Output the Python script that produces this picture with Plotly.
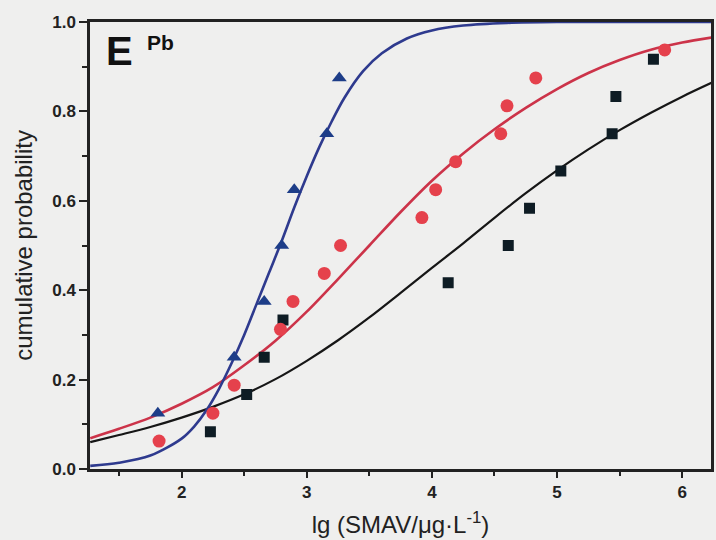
import plotly.graph_objects as go

# ---- data ----
# Blue triangles
tri_x = [1.81, 2.42, 2.66, 2.80, 2.90, 3.16, 3.26]
tri_y = [0.125, 0.25, 0.375, 0.50, 0.625, 0.75, 0.875]

# Red circles
cir_x = [1.82, 2.25, 2.42, 2.79, 2.89, 3.14, 3.27, 3.92, 4.03, 4.19, 4.55, 4.60, 4.83, 5.86]
cir_y = [0.0625, 0.125, 0.1875, 0.3125, 0.375, 0.4375, 0.50, 0.5625, 0.625, 0.6875,
         0.75, 0.8125, 0.875, 0.9375]

# Black squares
sq_x = [2.23, 2.52, 2.66, 2.81, 4.13, 4.61, 4.78, 5.03, 5.44, 5.47, 5.77]
sq_y = [0.0833, 0.1667, 0.25, 0.3333, 0.4167, 0.50, 0.5833, 0.6667, 0.75, 0.8333, 0.9167]

# Fitted curves
blue_cx = [1.27, 1.5, 1.75, 2.0, 2.1, 2.2, 2.3, 2.4, 2.5, 2.6, 2.7, 2.8, 2.9, 3.0,
           3.1, 3.2, 3.3, 3.45, 3.6, 3.8, 4.0, 4.25, 4.6, 5.0, 5.6, 6.25]
blue_cy = [0.007, 0.014, 0.030, 0.068, 0.095, 0.132, 0.180, 0.237, 0.300, 0.370,
           0.440, 0.510, 0.585, 0.655, 0.720, 0.778, 0.830, 0.890, 0.930, 0.963,
           0.981, 0.992, 0.998, 1.0, 1.0, 1.0]

red_cx = [1.27, 1.5, 1.75, 2.0, 2.25, 2.5, 2.75, 3.0, 3.25, 3.5, 3.75, 4.0, 4.25,
          4.5, 4.75, 5.0, 5.25, 5.5, 5.75, 6.0, 6.25]
red_cy = [0.069, 0.090, 0.115, 0.146, 0.183, 0.232, 0.287, 0.352, 0.425, 0.500,
          0.575, 0.645, 0.706, 0.760, 0.808, 0.850, 0.886, 0.915, 0.938, 0.954, 0.966]

blk_cx = [1.27, 1.5, 1.75, 2.0, 2.25, 2.5, 2.75, 3.0, 3.25, 3.5, 3.75, 4.0, 4.25,
          4.5, 4.75, 5.0, 5.25, 5.5, 5.75, 6.0, 6.25]
blk_cy = [0.060, 0.076, 0.094, 0.115, 0.139, 0.167, 0.201, 0.242, 0.288, 0.339,
          0.394, 0.450, 0.505, 0.562, 0.617, 0.668, 0.715, 0.758, 0.797, 0.833, 0.866]

x_ticks = [2, 3, 4, 5, 6]
y_ticks = [0.0, 0.2, 0.4, 0.6, 0.8, 1.0]

FONT = "Arial, Liberation Sans, Helvetica, sans-serif"
BG = "#efefee"
INK = "#222222"

fig = go.Figure()

fig.add_trace(go.Scatter(x=blk_cx, y=blk_cy, mode="lines",
                         line=dict(color="#161616", width=2.2, shape="spline", smoothing=0.9),
                         showlegend=False, hoverinfo="skip"))
fig.add_trace(go.Scatter(x=red_cx, y=red_cy, mode="lines",
                         line=dict(color="#cc3349", width=2.6, shape="spline", smoothing=0.9),
                         showlegend=False, hoverinfo="skip"))
fig.add_trace(go.Scatter(x=blue_cx, y=blue_cy, mode="lines",
                         line=dict(color="#2e3a8e", width=2.6, shape="spline", smoothing=0.9),
                         showlegend=False, hoverinfo="skip"))

fig.add_trace(go.Scatter(x=sq_x, y=sq_y, mode="markers",
                         marker=dict(symbol="square", size=11, color="#0e1c24"),
                         showlegend=False))
fig.add_trace(go.Scatter(x=cir_x, y=cir_y, mode="markers",
                         marker=dict(symbol="circle", size=13, color="#e5414c"),
                         showlegend=False))
fig.add_trace(go.Scatter(x=tri_x, y=tri_y, mode="markers",
                         marker=dict(symbol="triangle-up", size=13, color="#1d3d88"),
                         showlegend=False))

fig.update_layout(
    width=716, height=540,
    margin=dict(l=90, r=2, t=22, b=71),
    paper_bgcolor=BG, plot_bgcolor=BG,
    font=dict(family=FONT, color=INK),
    showlegend=False,
)

fig.update_xaxes(
    range=[1.268, 6.23],
    tickvals=x_ticks, ticktext=[str(v) for v in x_ticks],
    ticks="outside", ticklen=6, tickwidth=2.2, tickcolor=INK,
    minor=dict(dtick=0.5, tick0=0, ticks="outside", ticklen=4, tickwidth=2.2, tickcolor=INK),
    showline=True, linewidth=2.5, linecolor=INK, mirror=True,
    showgrid=False, zeroline=False,
    tickfont=dict(size=17, family=FONT, color=INK, weight="bold"),
    title=dict(text="lg (SMAV/μg·L<sup>-1</sup>)", font=dict(size=24, family=FONT, color=INK),
               standoff=16),
)
fig.update_yaxes(
    range=[0, 1],
    tickvals=y_ticks, ticktext=[f"{v:.1f}" for v in y_ticks],
    ticks="outside", ticklen=8, tickwidth=2.2, tickcolor=INK,
    minor=dict(dtick=0.1, tick0=0, ticks="outside", ticklen=5, tickwidth=2.2, tickcolor=INK),
    showline=True, linewidth=2.5, linecolor=INK, mirror=True,
    showgrid=False, zeroline=False,
    tickfont=dict(size=17, family=FONT, color=INK, weight="bold"),
)

# y-axis title placed as rotated text at the reference position
fig.add_annotation(text="cumulative probability", xref="paper", yref="paper",
                   x=(23 - 90) / 624, y=0.5, xanchor="center", yanchor="middle",
                   textangle=-90, showarrow=False,
                   font=dict(size=24, family=FONT, color=INK))

fig.add_annotation(text="<b>E</b>", xref="paper", yref="paper",
                   x=(104 - 90) / 624, y=(469 - 51) / 447, xanchor="left", yanchor="middle",
                   showarrow=False, font=dict(size=40, family=FONT, color="#111"))
fig.add_annotation(text="<b>Pb</b>", xref="paper", yref="paper",
                   x=(145 - 90) / 624, y=(469 - 42) / 447, xanchor="left", yanchor="middle",
                   showarrow=False, font=dict(size=21, family=FONT, color="#111"))

fig.write_html("out.html", config={"displayModeBar": False},
               post_script="document.body.style.margin='0';document.body.style.overflow='hidden';")
